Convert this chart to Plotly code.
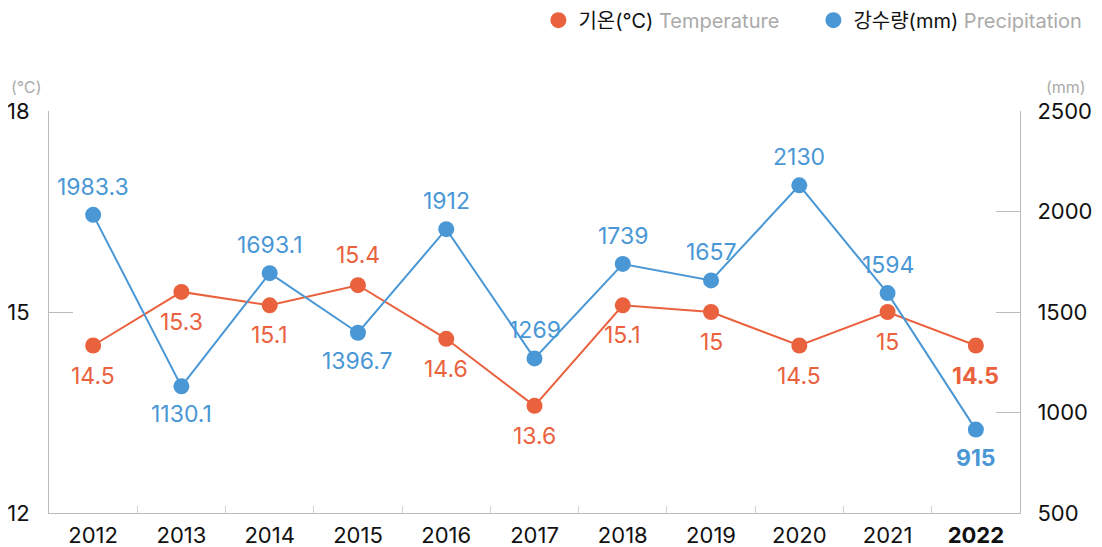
import plotly.graph_objects as go

# ── DATA ─────────────────────────────────────────────
years = ["2012", "2013", "2014", "2015", "2016", "2017",
         "2018", "2019", "2020", "2021", "2022"]
temperature = [14.5, 15.3, 15.1, 15.4, 14.6, 13.6, 15.1, 15, 14.5, 15, 14.5]
precipitation = [1983.3, 1130.1, 1693.1, 1396.7, 1912, 1269,
                 1739, 1657, 2130, 1594, 915]
# label side: 1 = above the point, -1 = below
temp_side = [-1, -1, -1, 1, -1, -1, -1, -1, -1, -1, -1]
prec_side = [1, -1, 1, -1, 1, 1, 1, 1, 1, 1, -1]
left_ticks = [12, 15, 18]
right_ticks = [500, 1000, 1500, 2000, 2500]

ORANGE = "#EA613E"
BLUE = "#4A97D6"
AXIS = "#BBBBBB"
FONT = "Inter, Noto Sans CJK KR, sans-serif"

fig = go.Figure()

fig.add_trace(go.Scatter(x=years, y=temperature, mode="lines+markers",
                         line=dict(color=ORANGE, width=2),
                         marker=dict(size=16, color=ORANGE),
                         showlegend=False, yaxis="y"))
fig.add_trace(go.Scatter(x=years, y=precipitation, mode="lines+markers",
                         line=dict(color=BLUE, width=2),
                         marker=dict(size=16, color=BLUE),
                         showlegend=False, yaxis="y2"))

# legend-only entries (circle symbols)
fig.add_trace(go.Scatter(x=[None], y=[None], mode="markers",
                         marker=dict(size=17, color=ORANGE),
                         name='기온(℃) <span style="color:#AAAAAA">Temperature</span>'))
fig.add_trace(go.Scatter(x=[None], y=[None], mode="markers",
                         marker=dict(size=17, color=BLUE),
                         name='강수량(mm) <span style="color:#AAAAAA">Precipitation</span>'))

# data labels (category axis -> annotation x is the category index)
annotations = []
last = len(years) - 1
for i, (v, s) in enumerate(zip(temperature, temp_side)):
    txt = f"{v:g}"
    annotations.append(dict(x=i, y=v, xref="x", yref="y", showarrow=False,
                            text=f"<b>{txt}</b>" if i == last else txt,
                            yshift=30 * s,
                            font=dict(size=23, color=ORANGE, family=FONT)))
for i, (v, s) in enumerate(zip(precipitation, prec_side)):
    txt = f"{v:g}"
    annotations.append(dict(x=i, y=v, xref="x", yref="y2", showarrow=False,
                            text=f"<b>{txt}</b>" if i == last else txt,
                            yshift=28 * s,
                            font=dict(size=23, color=BLUE, family=FONT)))

# unit labels
annotations.append(dict(x=-0.041, y=1.09, xref="paper", yref="paper",
                        text="(℃)", showarrow=False, xanchor="left",
                        font=dict(size=16, color="#AAAAAA", family=FONT)))
annotations.append(dict(x=1.047, y=1.09, xref="paper", yref="paper",
                        text="(mm)", showarrow=False, xanchor="center",
                        font=dict(size=16, color="#AAAAAA", family=FONT)))

# page body adds an 8px offset, margins compensate for it
fig.update_layout(
    width=1102, height=547,
    margin=dict(l=41, r=90, t=103, b=42, autoexpand=False),
    plot_bgcolor="white", paper_bgcolor="white",
    font=dict(family=FONT, size=22, color="#111111"),
    annotations=annotations,
    legend=dict(orientation="h", x=0.504, xanchor="left", y=1.226, yanchor="middle",
                font=dict(size=20, color="#111111", family=FONT),
                itemwidth=30, entrywidth=230, bgcolor="rgba(0,0,0,0)"),
    xaxis=dict(type="category", categoryorder="array", categoryarray=years,
               range=[-0.5, len(years) - 0.5],
               tickvals=years,
               ticktext=[f"<b>{y}</b>" if i == last else y for i, y in enumerate(years)],
               showline=True, linecolor=AXIS, linewidth=1,
               ticks="inside", tickson="boundaries", ticklen=7, tickcolor="#D0D0D0",
               ticklabelstandoff=3,
               showgrid=False, zeroline=False, tickfont=dict(size=22)),
    yaxis=dict(range=[12, 18], tickvals=left_ticks,
               showline=True, linecolor=AXIS, linewidth=1,
               ticks="inside", ticklen=24, tickcolor=AXIS,
               ticklabelstandoff=14,
               showgrid=False, zeroline=False, tickfont=dict(size=22)),
    yaxis2=dict(range=[500, 2500], tickvals=right_ticks, overlaying="y", side="right",
                showline=True, linecolor=AXIS, linewidth=1,
                ticks="inside", ticklen=24, tickcolor=AXIS,
                ticklabelstandoff=12,
                showgrid=False, zeroline=False, tickfont=dict(size=22)),
)

fig.write_html("out.html")
